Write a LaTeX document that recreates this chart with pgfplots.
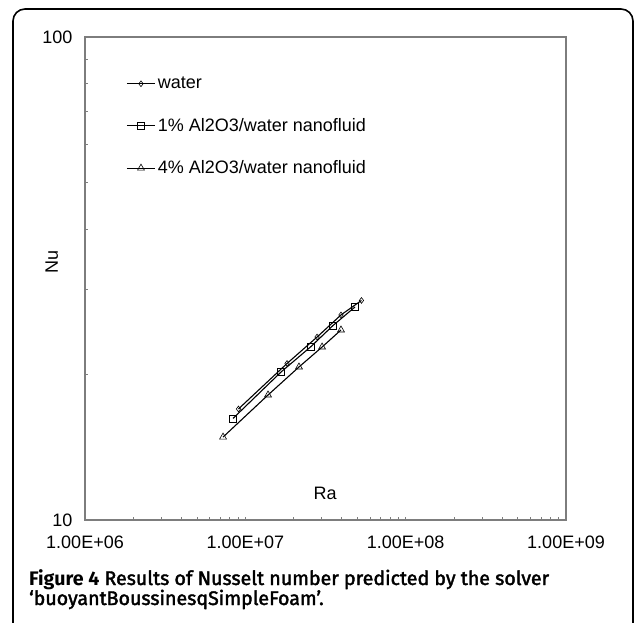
\documentclass[border=0pt]{standalone}
\usepackage{pgfplots}
\pgfplotsset{compat=1.18}
\usepackage{fontspec}
\setmainfont{Liberation Sans}
\newfontfamily\capfont[FakeBold=2]{Fira Sans}
\newfontfamily\capfontb{Fira Sans Bold}
\definecolor{axgray}{RGB}{125,125,125}
\begin{document}
\begin{tikzpicture}[x=1pt,y=1pt]
\useasboundingbox (0,0) rectangle (634,622);
\draw[line width=1.6pt, rounded corners=12pt] (13,-30) -- (13,613) -- (633,613) -- (633,-30);
\begin{axis}[
  at={(85pt,102pt)}, anchor=south west,
  scale only axis, width=481pt, height=483pt,
  xmode=log, ymode=log,
  xmin=1e6, xmax=1e9, ymin=10, ymax=100,
  xtick={1e6,1e7,1e8,1e9},
  xticklabels={1.00E+06,1.00E+07,1.00E+08,1.00E+09},
  ytick={10,100}, yticklabels={10,100},
  /pgf/number format/assume math mode=true,
  tick label style={font=\fontsize{18}{20}\selectfont},
  xticklabel style={yshift=-12pt},
  yticklabel style={xshift=-9pt},
  axis line style={axgray, line width=1.2pt},
  tick style={axgray, line width=0.8pt},
  major tick length=3pt, minor tick length=3pt,
  tick align=inside,
  xtick pos=bottom, ytick pos=left,
  label style={font=\fontsize{18}{20}\selectfont},
  xlabel={Ra},
  xlabel style={at={(axis description cs:0.499,0.056)}, anchor=center},
  ylabel={Nu},
  ylabel style={at={(axis description cs:-0.069,0.534)}, anchor=center, rotate=0},
  legend cell align=left,
  legend style={draw=none, fill=none, at={(axis description cs:0,1)}, anchor=north west,
    xshift=41pt, yshift=-38pt, font=\fontsize{18}{20}\selectfont,
    row sep=24pt, inner sep=0pt},
  legend image code/.code={
    \draw[#1, mark repeat=2, mark phase=2] plot coordinates {(0cm,0cm) (0.5cm,0cm) (1cm,0cm)};
  },
  every axis plot/.append style={black, line width=1.1pt},
]
\addplot[mark=diamond, mark size=2.9pt, mark options={fill=white, line width=0.6pt}] coordinates {
(9.06e6,16.98) (1.82e7,21.09) (2.80e7,23.92) (3.95e7,26.58) (5.30e7,28.48)};
\addlegendentry{water}
\addplot[mark=square, mark size=3.5pt, mark options={fill=none, line width=0.6pt}] coordinates {
(8.38e6,16.23) (1.67e7,20.25) (2.57e7,22.87) (3.52e7,25.27) (4.83e7,27.61)};
\addlegendentry{1\% Al2O3/water nanofluid}
\addplot[mark=triangle, mark size=4pt, mark options={fill=white, line width=0.6pt}] coordinates {
(7.26e6,14.85) (1.385e7,18.15) (2.16e7,20.74) (3.01e7,22.81) (3.95e7,24.74)};
\addlegendentry{4\% Al2O3/water nanofluid}
\end{axis}
\node[anchor=base west, inner sep=0pt, font=\capfont\fontsize{19.6}{21}\selectfont] at (29,37)
  {{\capfontb Figure 4} Results of Nusselt number predicted by the solver};
\node[anchor=base west, inner sep=0pt, font=\capfont\fontsize{19.6}{21}\selectfont] at (29,17)
  {‘buoyantBoussinesqSimpleFoam’.};
\end{tikzpicture}
\end{document}
